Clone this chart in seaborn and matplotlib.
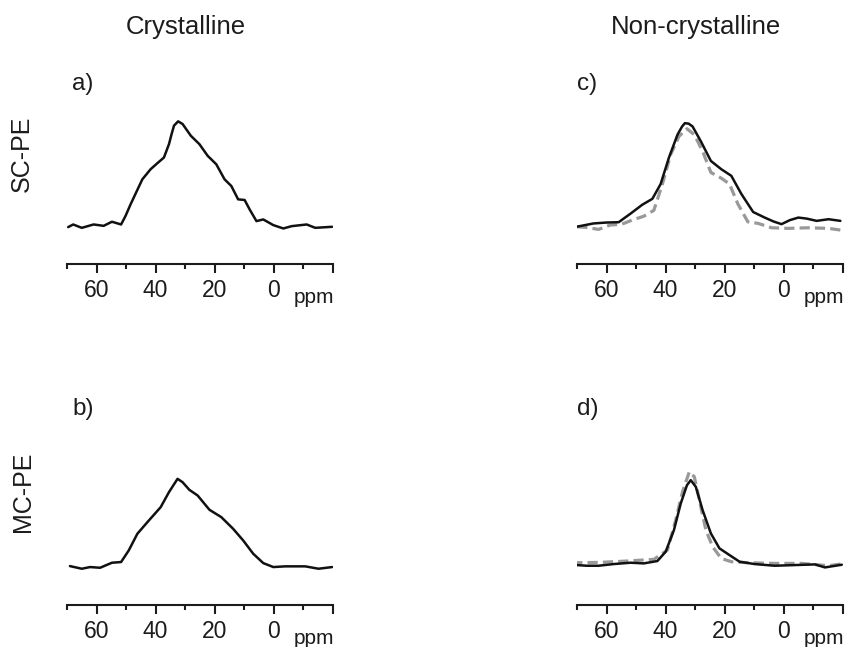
import numpy as np
import pandas as pd
import seaborn as sns
import matplotlib.pyplot as plt
from matplotlib.ticker import MultipleLocator

# chemical shift (ppm) and normalised intensity
a_ppm = [69.6, 67.9, 65.0, 61.0, 57.6, 54.8, 51.7, 50.2, 48.5, 46.5, 44.5, 41.7, 39.5, 37.2,
         35.5, 34.6, 33.8, 32.4, 30.9, 28.1, 25.2, 22.4, 19.5, 16.7, 14.4, 12.1, 9.9, 8.2,
         5.9, 3.6, 0.2, -3.2, -6.0, -11.1, -14.0, -19.7]
a_int = [-0.006, 0.019, -0.013, 0.019, 0.006, 0.045, 0.019, 0.1, 0.21, 0.33, 0.449, 0.545,
         0.6, 0.656, 0.783, 0.88, 0.959, 1.0, 0.975, 0.863, 0.783, 0.672, 0.592, 0.449,
         0.385, 0.258, 0.252, 0.162, 0.051, 0.067, 0.013, -0.019, 0.003, 0.019, -0.013,
         -0.003]

b_ppm = [69.0, 65.0, 62.2, 58.8, 54.8, 51.7, 49.1, 46.2, 42.8, 38.3, 35.5, 32.6, 30.9, 28.6,
         25.8, 21.8, 17.8, 13.8, 10.4, 7.0, 3.6, 0.2, -3.8, -10.6, -15.1, -19.7]
b_int = [0.011, -0.019, 0.0, -0.008, 0.049, 0.057, 0.189, 0.377, 0.509, 0.679, 0.849, 1.0,
         0.962, 0.875, 0.811, 0.649, 0.566, 0.434, 0.302, 0.151, 0.045, 0.0, 0.008, 0.008,
         -0.019, 0.0]

c_ppm = [70.1, 64.4, 59.9, 55.9, 51.9, 47.9, 44.5, 41.7, 38.9, 36.0, 34.5, 33.5, 32.2, 30.9,
         28.1, 24.7, 21.2, 17.8, 14.4, 10.4, 6.5, 3.5, 0.8, -2.0, -4.9, -7.7, -11.1, -15.1,
         -19.1]
c_int = [-0.006, 0.026, 0.035, 0.038, 0.121, 0.208, 0.265, 0.409, 0.665, 0.888, 0.965, 1.0,
         0.995, 0.968, 0.824, 0.633, 0.553, 0.489, 0.313, 0.137, 0.083, 0.045, 0.019, 0.058,
         0.083, 0.073, 0.051, 0.067, 0.051]
c_ref_ppm = [70.1, 66.7, 62.7, 58.8, 54.8, 51.4, 47.4, 44.0, 41.1, 38.3, 35.5, 32.8, 30.3,
             27.5, 24.7, 21.2, 18.4, 15.6, 12.2, 8.7, 4.2, -1.5, -8.3, -15.1, -19.1]
c_ref_int = [-0.006, -0.013, -0.032, 0.01, 0.019, 0.058, 0.096, 0.153, 0.409, 0.696, 0.872,
             0.946, 0.888, 0.728, 0.521, 0.466, 0.409, 0.217, 0.042, 0.026, -0.016, -0.022,
             -0.016, -0.022, -0.038]

d_ppm = [70.1, 66.7, 62.7, 57.6, 51.9, 47.4, 42.8, 40.0, 37.2, 34.9, 32.8, 31.5, 29.8, 27.5,
         24.7, 21.8, 18.4, 15.0, 9.9, 3.1, -3.7, -10.5, -13.9, -19.6]
d_int = [-0.012, -0.02, -0.02, 0.0, 0.016, 0.008, 0.036, 0.147, 0.405, 0.722, 0.94, 1.0,
         0.921, 0.643, 0.365, 0.187, 0.107, 0.028, 0.0, -0.02, -0.012, -0.004, -0.04, -0.008]
d_ref_ppm = [70.1, 62.2, 53.1, 44.0, 39.4, 36.6, 34.3, 32.0, 30.3, 28.6, 26.4, 24.1, 21.2,
             17.8, 12.2, 3.1, -6.0, -15.1, -19.1]
d_ref_int = [0.016, 0.02, 0.036, 0.056, 0.167, 0.524, 0.861, 1.1, 1.04, 0.762, 0.405, 0.206,
             0.067, 0.028, 0.016, 0.008, 0.008, -0.02, 0.0]

tick_labels = ['60', '40', '20', '0']

sns.set_style('white')
plt.rcParams['font.family'] = ['Liberation Sans', 'DejaVu Sans']

W, H = 846, 647
fig = plt.figure(figsize=(W / 100, H / 100), dpi=100)
ink = '#1c1c1c'


def make_axes(left_px, axis_px, ylo, yhi):
    # axes placed in pixel units, 150 px high above the ppm axis
    ax = fig.add_axes([left_px / W, 1 - axis_px / H, 266 / W, 150 / H])
    ax.set_xlim(70, -20)
    ax.set_ylim(ylo, yhi)
    for s in ['left', 'right', 'top']:
        ax.spines[s].set_visible(False)
    ax.spines['bottom'].set_linewidth(1.5)
    ax.spines['bottom'].set_color(ink)
    ax.set_yticks([])
    ax.xaxis.set_minor_locator(MultipleLocator(10))
    ax.set_xticks([60, 40, 20, 0, -20])
    ax.set_xticklabels(tick_labels + [''])
    ax.tick_params(axis='x', which='major', direction='out', length=6.5, width=1.5,
                   color=ink, labelsize=16.5, labelcolor=ink, pad=4.5, bottom=True)
    ax.tick_params(axis='x', which='minor', direction='out', length=3.3, width=1.5,
                   color=ink, bottom=True)
    # 'ppm' unit sits just right of the 0 label, slightly lower
    ax.text(-13.5, -39 / 150, 'ppm', transform=ax.get_xaxis_transform(), ha='center',
            va='baseline', fontsize=15, color=ink)
    ax.set_xlabel('')
    ax.set_ylabel('')
    return ax


ax_a = make_axes(67, 264, -0.357, 1.07)
ax_b = make_axes(67, 605, -0.43, 1.27)
ax_c = make_axes(577, 264, -0.368, 1.089)
ax_d = make_axes(577, 605, -0.488, 1.30)

lw = 1.8
solid = dict(color='#111111', lw=lw, solid_joinstyle='round', solid_capstyle='round')
dash = dict(color='#999999', lw=2.3, dashes=(3.2, 1.6))
sns.lineplot(x=a_ppm, y=a_int, ax=ax_a, **solid)
sns.lineplot(x=b_ppm, y=b_int, ax=ax_b, **solid)
sns.lineplot(x=c_ref_ppm, y=c_ref_int, ax=ax_c, **dash)
sns.lineplot(x=c_ppm, y=c_int, ax=ax_c, **solid)
sns.lineplot(x=d_ref_ppm, y=d_ref_int, ax=ax_d, **dash)
sns.lineplot(x=d_ppm, y=d_int, ax=ax_d, **solid)

fig.text(186 / W, 1 - 27 / H, 'Crystalline', ha='center', va='center', color=ink,
         fontsize=18.5)
fig.text(696 / W, 1 - 27 / H, 'Non-crystalline', ha='center', va='center', color=ink,
         fontsize=18.5)
lab = dict(ha='left', va='center', color=ink, fontsize=17.5)
fig.text(72 / W, 1 - 84 / H, 'a)', **lab)
fig.text(577 / W, 1 - 84 / H, 'c)', **lab)
fig.text(72 / W, 1 - 409 / H, 'b)', **lab)
fig.text(577 / W, 1 - 409 / H, 'd)', **lab)
side = dict(rotation=90, ha='center', va='center', color=ink, fontsize=18)
fig.text(22 / W, 1 - 154 / H, 'SC-PE', **side)
fig.text(23 / W, 1 - 492 / H, 'MC-PE', **side)

fig.savefig('out.png', dpi=100)
